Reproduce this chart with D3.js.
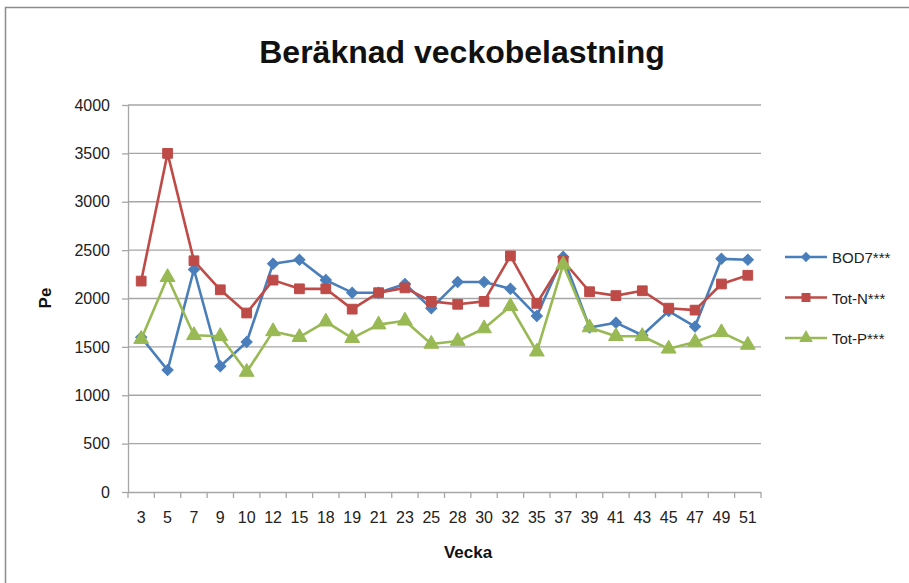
<!DOCTYPE html>
<html>
<head>
<meta charset="utf-8">
<script src="https://cdnjs.cloudflare.com/ajax/libs/d3/7.8.5/d3.min.js"></script>
<style>
  body { margin: 0; background: #fff; }
  svg text { font-family: "Liberation Sans", Arial, sans-serif; }
</style>
</head>
<body>
<div class="chart"></div>
<script>
// weeks on x axis
var weeks = ["3","5","7","9","10","12","15","18","19","21","23","25","28","30","32","35","37","39","41","43","45","47","49","51"];

var bod7 = [1600,1260,2300,1300,1550,2360,2400,2190,2060,2060,2150,1900,2170,2170,2100,1820,2430,1700,1750,1620,1870,1710,2410,2400];
var totN = [2180,3500,2390,2090,1850,2190,2100,2100,1890,2060,2110,1970,1940,1970,2440,1950,2390,2070,2030,2080,1900,1880,2150,2240];
var totP = [1580,2220,1620,1610,1240,1660,1600,1760,1590,1730,1770,1530,1560,1690,1920,1450,2350,1700,1610,1610,1480,1550,1650,1520];

var yTicks = [0,500,1000,1500,2000,2500,3000,3500,4000];

var seriesNames = ["BOD7***","Tot-N***","Tot-P***"];
var seriesColors = ["#4A7EBB","#BE4B48","#98B954"];

var options = {
    width: 909,
    height: 583,
    left: 128,
    right: 761,
    top: 105,
    bottom: 492
};

// markers: rotated square (diamond), square, triangle
var markers = [
    { sym: d3.symbolSquare, size: 62, rot: 45 },
    { sym: d3.symbolSquare, size: 95, rot: 0 },
    { sym: d3.symbolTriangle, size: 95, rot: 0 }
];

var svg = d3.select(".chart").append("svg")
    .attr("width", options.width)
    .attr("height", options.height);

// chart frame
svg.append("rect")
    .attr("x", 5.5).attr("y", 7.5)
    .attr("width", 920).attr("height", 600)
    .attr("fill", "none")
    .attr("stroke", "#8c8c8c")
    .attr("stroke-width", 1.5);

var xScale = d3.scaleBand()
    .domain(weeks)
    .range([options.left, options.right]);

var yScale = d3.scaleLinear()
    .domain([0, 4000])
    .range([options.bottom, options.top]);

// grid
svg.append("g")
    .selectAll("line")
    .data(yTicks.slice(1))
    .enter().append("line")
    .attr("x1", options.left)
    .attr("x2", options.right)
    .attr("y1", function(d){ return yScale(d); })
    .attr("y2", function(d){ return yScale(d); })
    .attr("stroke", "#a6a6a6")
    .attr("stroke-width", 1.3);

// y axis
var yAxis = d3.axisLeft(yScale).tickValues(yTicks).tickFormat(d3.format("d")).tickSize(6).tickPadding(12);
var gy = svg.append("g")
    .attr("class", "y axis")
    .attr("transform", "translate(" + options.left + ",0)")
    .call(yAxis);

// x axis, ticks on band edges
var xAxis = d3.axisBottom(xScale).tickSize(0).tickPadding(20);
var gx = svg.append("g")
    .attr("class", "x axis")
    .attr("transform", "translate(0," + options.bottom + ")")
    .call(xAxis);

gx.selectAll(".edge")
    .data(weeks.concat(["end"]))
    .enter().append("line")
    .attr("class", "edge")
    .attr("x1", function(d, i){ return options.left + i * xScale.step(); })
    .attr("x2", function(d, i){ return options.left + i * xScale.step(); })
    .attr("y1", 0).attr("y2", 6)
    .attr("stroke", "#a6a6a6")
    .attr("stroke-width", 1.3);

svg.selectAll(".axis .domain").attr("stroke", "#a6a6a6").attr("stroke-width", 1.3);
svg.selectAll(".axis .tick line").attr("stroke", "#a6a6a6").attr("stroke-width", 1.3);
svg.selectAll(".axis text")
    .attr("font-size", "16px")
    .attr("fill", "#222");
gx.select(".domain").attr("d", "M" + options.left + ",0.5H" + options.right);
gy.select(".domain").attr("d", "M0.5," + options.top + "V" + options.bottom);

// lines + markers
var allSeries = [bod7, totN, totP];
var line = d3.line()
    .x(function(d, i){ return xScale(weeks[i]) + xScale.bandwidth() / 2; })
    .y(function(d){ return yScale(d); });

allSeries.forEach(function(values, s) {
    svg.append("path")
        .datum(values)
        .attr("d", line)
        .attr("fill", "none")
        .attr("stroke", seriesColors[s])
        .attr("stroke-width", 2.6)
        .attr("stroke-linejoin", "round");

    var m = markers[s];
    var sym = d3.symbol().type(m.sym).size(m.size);
    svg.append("g").selectAll("path")
        .data(values)
        .enter().append("path")
        .attr("d", sym)
        .attr("transform", function(d, i){
            return "translate(" + (xScale(weeks[i]) + xScale.bandwidth() / 2) + "," + yScale(d) + ") rotate(" + m.rot + ")";
        })
        .attr("fill", seriesColors[s])
        .attr("stroke", seriesColors[s])
        .attr("stroke-width", 1);
});

// legend
var legend = svg.append("g").attr("transform", "translate(785,0)");
seriesNames.forEach(function(name, s) {
    var y = 257 + s * 40.5;
    var m = markers[s];
    legend.append("line")
        .attr("x1", 0).attr("x2", 42)
        .attr("y1", y).attr("y2", y)
        .attr("stroke", seriesColors[s])
        .attr("stroke-width", 2.6);
    legend.append("path")
        .attr("d", d3.symbol().type(m.sym).size(m.size * 0.85))
        .attr("transform", "translate(21," + y + ") rotate(" + m.rot + ")")
        .attr("fill", seriesColors[s]);
    legend.append("text")
        .attr("x", 47).attr("y", y + 6)
        .attr("font-size", "15px")
        .attr("fill", "#222")
        .text(name);
});

// titles
svg.append("text")
    .attr("x", 462).attr("y", 63)
    .attr("text-anchor", "middle")
    .attr("font-size", "32px")
    .attr("font-weight", "bold")
    .attr("fill", "#111")
    .text("Beräknad veckobelastning");

svg.append("text")
    .attr("x", 468).attr("y", 558)
    .attr("text-anchor", "middle")
    .attr("font-size", "17px")
    .attr("font-weight", "bold")
    .attr("fill", "#111")
    .text("Vecka");

svg.append("text")
    .attr("transform", "translate(51,298) rotate(-90)")
    .attr("text-anchor", "middle")
    .attr("font-size", "17px")
    .attr("font-weight", "bold")
    .attr("fill", "#111")
    .text("Pe");
</script>
</body>
</html>
